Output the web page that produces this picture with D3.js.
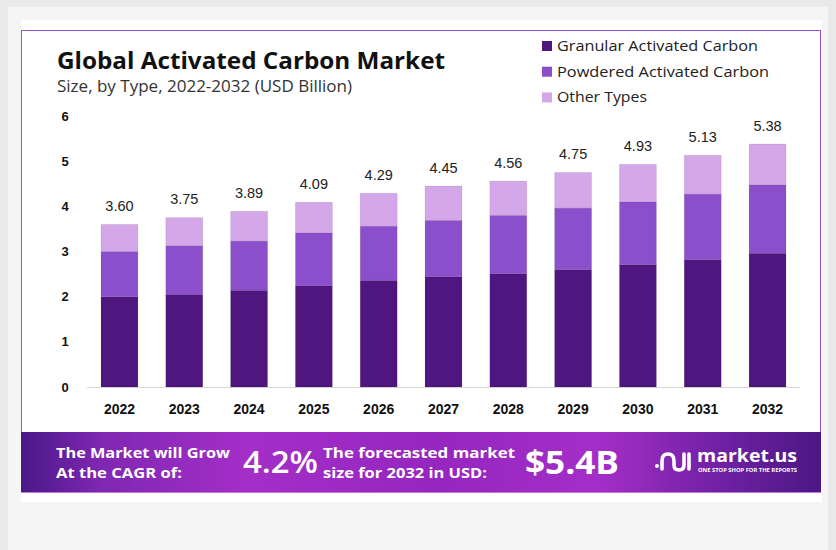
<!DOCTYPE html>
<html>
<head>
<meta charset="utf-8">
<script src="https://cdn.jsdelivr.net/npm/d3@7/dist/d3.min.js"></script>
<style>
  body { margin: 0; background: #f5f5f5; }
  svg { display: block; }
</style>
</head>
<body>
<div id="chart"></div>
<script>
// data
const years = ['2022', '2023', '2024', '2025', '2026', '2027', '2028', '2029', '2030', '2031', '2032'];
const granular = [2.00, 2.05, 2.14, 2.24, 2.36, 2.44, 2.51, 2.60, 2.71, 2.82, 2.96];
const powdered = [1.00, 1.08, 1.09, 1.17, 1.20, 1.25, 1.29, 1.36, 1.39, 1.45, 1.52];
const other = [0.60, 0.62, 0.66, 0.68, 0.73, 0.76, 0.76, 0.79, 0.83, 0.86, 0.90];
const totals = [3.60, 3.75, 3.89, 4.09, 4.29, 4.45, 4.56, 4.75, 4.93, 5.13, 5.38];
const seriesNames = ['Granular Activated Carbon', 'Powdered Activated Carbon', 'Other Types'];
const seriesColors = ['#4f167f', '#8b4fcb', '#d4a7e9'];
const yTicks = [0, 1, 2, 3, 4, 5, 6];

const W = 836, H = 550;
const svg = d3.select('#chart').append('svg').attr('width', W).attr('height', H);

// page / card background
svg.append('rect').attr('width', W).attr('height', H).attr('fill', '#e9e9e9');
svg.append('rect').attr('x', 8).attr('y', 7).attr('width', 820).attr('height', 543).attr('fill', '#f5f5f5');
svg.append('rect').attr('x', 21).attr('y', 20).attr('width', 801).attr('height', 482).attr('fill', '#fff');
svg.append('rect').attr('x', 21.5).attr('y', 30.5).attr('width', 799).attr('height', 402)
    .attr('fill', 'none').attr('stroke', '#9c4fcc').attr('stroke-width', 1);

// titles
svg.append('text').attr('x', 57).attr('y', 69)
    .attr('font-family', 'Open Sans, sans-serif').attr('font-weight', 700).attr('font-size', 24)
    .attr('fill', '#111').attr('textLength', 388).attr('lengthAdjust', 'spacingAndGlyphs')
    .text('Global Activated Carbon Market');
svg.append('text').attr('x', 57).attr('y', 92)
    .attr('font-family', 'Open Sans, sans-serif').attr('font-size', 16)
    .attr('fill', '#333').attr('textLength', 295).attr('lengthAdjust', 'spacingAndGlyphs')
    .text('Size, by Type, 2022-2032 (USD Billion)');

// legend
const legend = svg.append('g');
const legendW = [201, 212, 90];
seriesNames.forEach((name, i) => {
    const ly = 46 + i * 25.7;
    legend.append('rect').attr('x', 542).attr('y', ly - 5).attr('width', 10).attr('height', 10)
        .attr('fill', seriesColors[i]);
    legend.append('text').attr('x', 557).attr('y', ly + 5)
        .attr('font-family', 'Open Sans, sans-serif').attr('font-size', 14.5).attr('fill', '#222')
        .attr('textLength', legendW[i]).attr('lengthAdjust', 'spacingAndGlyphs')
        .text(name);
});

// scales
const x = d3.scaleBand().domain(years).range([87, 800]).paddingInner(0.43).paddingOuter(0.216);
const y = d3.scaleLinear().domain([0, 6]).range([387, 116]);

// y tick labels
svg.append('g').selectAll('text').data(yTicks).enter().append('text')
    .attr('x', 65).attr('y', d => y(d) + 4.5)
    .attr('text-anchor', 'middle')
    .attr('font-family', 'Liberation Sans, Arial, sans-serif').attr('font-weight', 700)
    .attr('font-size', 13).attr('fill', '#111')
    .text(d => d);

// baseline
svg.append('line').attr('x1', 87).attr('x2', 800).attr('y1', y(0) + 0.5).attr('y2', y(0) + 0.5)
    .attr('stroke', '#d9d9d9');

// stacked bars
const rows = years.map((yr, i) => ({ year: yr, g: granular[i], p: powdered[i], o: other[i] }));
const stack = d3.stack().keys(['g', 'p', 'o'])(rows);

svg.append('g').selectAll('g').data(stack).enter().append('g')
    .attr('fill', (d, i) => seriesColors[i])
    .selectAll('rect').data(d => d).enter().append('rect')
    .attr('x', d => x(d.data.year))
    .attr('y', d => y(d[1]))
    .attr('width', x.bandwidth())
    .attr('height', d => y(d[0]) - y(d[1]))
    .attr('stroke', 'rgba(0,0,0,0.08)').attr('stroke-width', 1);

// total labels
svg.append('g').selectAll('text').data(years).enter().append('text')
    .attr('x', d => x(d) + x.bandwidth() / 2)
    .attr('y', (d, i) => y(totals[i]) - 13.5)
    .attr('text-anchor', 'middle')
    .attr('font-family', 'Liberation Sans, Arial, sans-serif').attr('font-size', 14.5).attr('fill', '#222')
    .text((d, i) => totals[i].toFixed(2));

// year labels
svg.append('g').selectAll('text').data(years).enter().append('text')
    .attr('x', d => x(d) + x.bandwidth() / 2)
    .attr('y', 414)
    .attr('text-anchor', 'middle')
    .attr('font-family', 'Liberation Sans, Arial, sans-serif').attr('font-weight', 700)
    .attr('font-size', 14).attr('fill', '#111')
    .text(d => d);

// bottom banner
const defs = svg.append('defs');
const grad = defs.append('linearGradient').attr('id', 'bannerGrad');
[[0, '#4a1888'], [0.1, '#7f27b2'], [0.28, '#a42ec8'], [0.52, '#9526bf'], [0.72, '#a42ec8'],
 [0.88, '#6e20a2'], [1, '#4b1784']].forEach(s => {
    grad.append('stop').attr('offset', s[0]).attr('stop-color', s[1]);
});
svg.append('rect').attr('x', 21).attr('y', 432).attr('width', 800).attr('height', 61)
    .attr('fill', 'url(#bannerGrad)');
svg.append('line').attr('x1', 21).attr('x2', 821).attr('y1', 492.5).attr('y2', 492.5)
    .attr('stroke', '#c07ad8');

const bannerFont = 'Open Sans, sans-serif';
function bannerText(tx, ty, txt, size, len, weight) {
    svg.append('text').attr('x', tx).attr('y', ty)
        .attr('font-family', bannerFont).attr('font-weight', weight || 700)
        .attr('font-size', size).attr('fill', '#fff')
        .attr('textLength', len).attr('lengthAdjust', 'spacingAndGlyphs')
        .text(txt);
}
bannerText(56, 458, 'The Market will Grow', 15, 174);
bannerText(56, 478, 'At the CAGR of:', 15, 126);
bannerText(243, 473, '4.2%', 31, 75, 600);
bannerText(323, 458, 'The forecasted market', 15, 192);
bannerText(323, 478, 'size for 2032 in USD:', 15, 164);
bannerText(525, 474, '$5.4B', 32, 94);

// market.us logo
const logo = svg.append('g').attr('fill', 'none').attr('stroke', '#fff')
    .attr('stroke-width', 3.6).attr('stroke-linecap', 'round');
logo.append('circle').attr('cx', 657).attr('cy', 466).attr('r', 2).attr('fill', '#fff').attr('stroke', 'none');
logo.append('path').attr('d', 'M662,469 L662,461 Q662,454 668,454 Q674,454 674,461 L674,465 Q674,470 679,470 Q684,470 684,465 L684,454');
logo.append('line').attr('x1', 689).attr('x2', 689).attr('y1', 454).attr('y2', 469);
svg.append('text').attr('x', 697).attr('y', 462)
    .attr('font-family', 'Open Sans, sans-serif').attr('font-weight', 700).attr('font-size', 17)
    .attr('fill', '#fff').attr('textLength', 100).attr('lengthAdjust', 'spacingAndGlyphs')
    .text('market.us');
svg.append('text').attr('x', 698).attr('y', 472)
    .attr('font-family', 'Open Sans, sans-serif').attr('font-weight', 700).attr('font-size', 4.5)
    .attr('fill', '#fff').attr('textLength', 99).attr('lengthAdjust', 'spacingAndGlyphs')
    .text('ONE STOP SHOP FOR THE REPORTS');
</script>
</body>
</html>
